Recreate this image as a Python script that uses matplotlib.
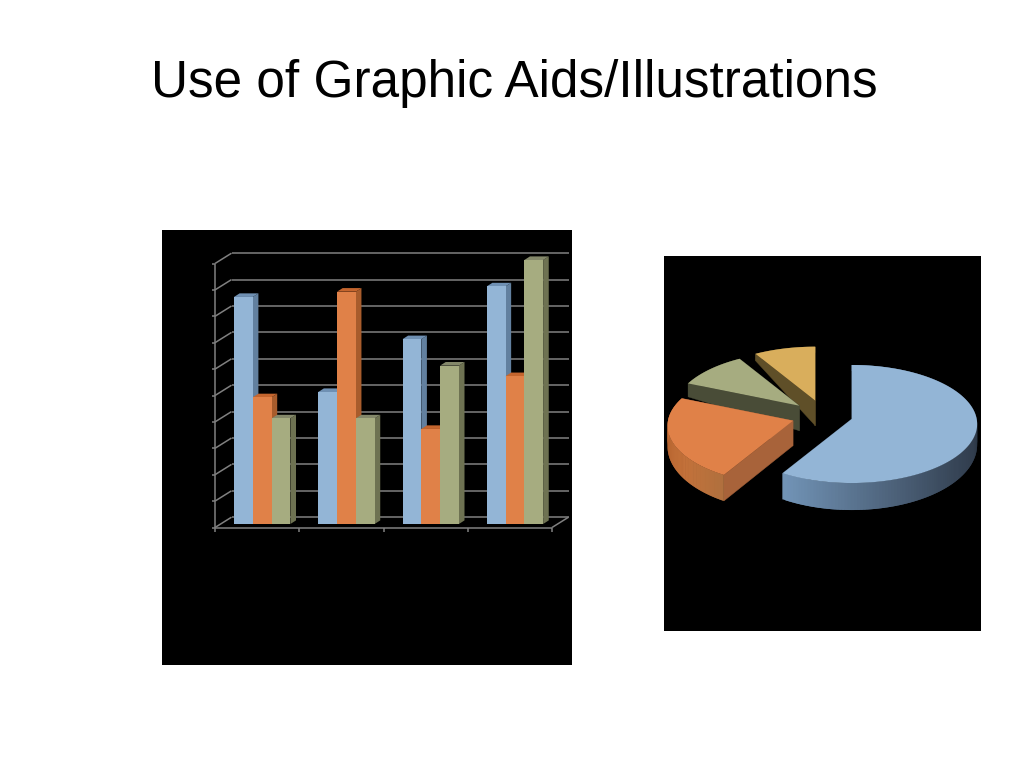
"""Slide with a fake-3D column chart and an exploded 3D pie."""
import numpy as np
import matplotlib.pyplot as plt
from matplotlib.colors import to_rgb
from matplotlib.patches import Polygon

TITLE = "Use of Graphic Aids/Illustrations"

# column chart data
SERIES_A = [4.3, 2.5, 3.5, 4.5]
SERIES_B = [2.4, 4.4, 1.8, 2.8]
SERIES_C = [2.0, 2.0, 3.0, 5.0]
Y_TICKS = [0, 0.5, 1, 1.5, 2, 2.5, 3, 3.5, 4, 4.5, 5]

# pie chart data, clockwise from twelve o'clock
PIE_VALUES = [8.2, 3.2, 1.4, 1.2]

W, H = 1024, 768
GRID = "#808080"
FRONT = ["#93B5D6", "#E08148", "#A6AC80"]
SIDE = ["#62809F", "#A85C2C", "#6E7252"]
TOP = ["#6F90B3", "#C4652E", "#84886A"]


def add_axes_px(fig, left, top, right, bottom):
    ax = fig.add_axes([left / W, 1 - bottom / H, (right - left) / W, (bottom - top) / H])
    ax.set_facecolor("black")
    ax.set_xticks([])
    ax.set_yticks([])
    for s in ax.spines.values():
        s.set_visible(False)
    return ax


def draw_columns(ax):
    # 84.25 px per category, 52.8 px per value unit
    px_x, px_y = 84.25, 52.8
    ax.set_xlim((162 - 215) / px_x, (572 - 215) / px_x)
    ax.set_ylim((527.5 - 665) / px_y, (527.5 - 230) / px_y)

    wall_x, wall_y = 16.5 / px_x, 10.3 / px_y
    n_cat = len(SERIES_A)
    line = dict(color=GRID, lw=1.1, solid_capstyle="butt", zorder=1)

    for v in Y_TICKS:
        ax.plot([wall_x, n_cat + wall_x], [v + wall_y, v + wall_y], **line)
        ax.plot([0, wall_x], [v, v + wall_y], **line)
        ax.plot([-3 / px_x, 0], [v, v], **line)
    ax.plot([0, 0], [0, Y_TICKS[-1]], **line)
    ax.plot([0, n_cat], [0, 0], **line)
    ax.plot([n_cat, n_cat + wall_x], [0, wall_y], **line)
    for i in range(n_cat + 1):
        ax.plot([i, i], [-4 / px_y, 0], **line)

    bar_w = 18.8 / px_x
    start = 19 / px_x
    base = 3.5 / px_y
    dx, dy = 5.6 / px_x, 3.6 / px_y
    z = 2
    for i in range(n_cat):
        for j, vals in enumerate([SERIES_A, SERIES_B, SERIES_C]):
            x0 = i + start + j * bar_w
            x1 = x0 + bar_w
            top = base + vals[i]
            side = [(x1, base), (x1 + dx, base + dy), (x1 + dx, top + dy), (x1, top)]
            lid = [(x0, top), (x0 + dx, top + dy), (x1 + dx, top + dy), (x1, top)]
            ax.add_patch(Polygon(side, fc=SIDE[j], ec="none", zorder=z))
            ax.add_patch(Polygon(lid, fc=TOP[j], ec="none", zorder=z))
            ax.bar(x0, vals[i], width=bar_w, bottom=base, align="edge",
                   color=FRONT[j], linewidth=0, zorder=z + 0.5)
            z += 1


def project(theta, rx=125.0, ry=58.6, persp=0.085):
    u, v = np.cos(theta), np.sin(theta)
    w = 1 + persp * v
    return rx * u / w, ry * v / w


def rim_depth(theta):
    # the far side of the pie looks thinner than the near side
    return np.interp(np.sin(theta), [-1, 0, 0.36, 0.7, 1], [27, 20, 14, 8, 6])


def draw_pie(ax):
    # units are pixels, origin at the tip of the biggest slice
    ax.set_xlim(664 - 851.7, 981 - 851.7)
    ax.set_ylim(419 - 631, 419 - 256)

    tip_depth = 25.0
    tips = [(0, 0), (-58.7, -1.7), (-52.4, 13.3), (-36.4, 18.3)]
    tops = ["#93B5D6", "#E08148", "#A6AC80", "#D9AE5C"]
    rim_light = ["#7395B8", "#CC7238", "#4A4D38", "#5F4F28"]
    rim_dark = ["#303C4C", "#B0703E", "#4A4D38", "#5F4F28"]
    walls = ["#3F4E60", "#A8633A", "#494C37", "#5F4F28"]

    shares = np.array(PIE_VALUES) / sum(PIE_VALUES)
    edges = np.pi / 2 - 2 * np.pi * np.concatenate([[0], np.cumsum(shares)])

    # back slices first, each one covers what lies under it
    for k in [3, 2, 1, 0]:
        tx, ty = tips[k]
        t = np.linspace(edges[k], edges[k + 1], 160)
        px, py = project(t)
        px, py = px + tx, py + ty
        low = py - rim_depth(t)

        for end in [0, -1]:
            wall = [(tx, ty), (px[end], py[end]), (px[end], low[end]), (tx, ty - tip_depth)]
            ax.add_patch(Polygon(wall, fc=walls[k], ec=walls[k], lw=0.3, zorder=k * -10))

        light, dark = np.array(to_rgb(rim_light[k])), np.array(to_rgb(rim_dark[k]))
        span = px.max() - px.min()
        for a in range(len(t) - 2):
            f = (px[a] - px.min()) / span
            # each strip overlaps the next so no seams show
            quad = [(px[a], py[a]), (px[a + 2], py[a + 2]), (px[a + 2], low[a + 2]), (px[a], low[a])]
            c = light + (dark - light) * f
            ax.add_patch(Polygon(quad, fc=c, ec="none", zorder=k * -10 + 1 + a * 1e-3))

        outline = [(tx, ty)] + list(zip(px, py))
        ax.add_patch(Polygon(outline, fc=tops[k], ec="none", zorder=k * -10 + 2))


fig = plt.figure(figsize=(W / 100, H / 100), dpi=100, facecolor="white")
fig.text(514.5 / W, 1 - 97.5 / H, TITLE, ha="center", va="baseline",
         fontsize=36.9, family="Liberation Sans", color="black")

draw_columns(add_axes_px(fig, 162, 230, 572, 665))
draw_pie(add_axes_px(fig, 664, 256, 981, 631))

fig.savefig("out.png", dpi=100)
plt.close(fig)
